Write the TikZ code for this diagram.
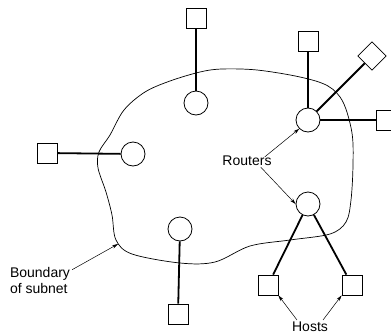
\documentclass[tikz,border=0pt]{standalone}
\usepackage{fontspec}
\setmainfont{Liberation Sans}
\usetikzlibrary{arrows.meta}
\begin{document}
\begin{tikzpicture}[x=1pt,y=-1pt,
  router/.style={circle,draw,line width=0.8pt,minimum size=24pt,inner sep=0pt},
  host/.style={rectangle,draw,line width=0.8pt,minimum size=20pt,inner sep=0pt},
  dhost/.style={host,rotate=45},
  link/.style={line width=1.8pt},
  lbl/.style={font=\fontsize{14}{16}\selectfont,inner sep=1pt},
  pointer/.style={line width=0.5pt,-{Stealth[length=6pt,width=3.5pt]}}]
\useasboundingbox (0,0) rectangle (391,335);
\clip (0,0) rectangle (391,335);
% boundary of subnet
\draw[line width=0.7pt] plot[smooth cycle,tension=0.55] coordinates {
  (200,72) (170,81) (145,92) (124,110) (110,135) (99,152) (98,168)
  (106,192) (112,215) (116,240) (132,254) (180,263) (215,262) (250,246)
  (290,240) (330,234) (346,222) (351,200) (353,165) (352,133) (343,102)
  (328,86) (300,77) (257,70) (222,69)};
\coordinate (bpt) at (118,244);
% routers
\node[router] (ra) at (196,103) {};
\node[router] (rl) at (133,154) {};
\node[router] (rtr) at (308,120) {};
\node[router] (rbr) at (308,204) {};
\node[router] (rb) at (180,229) {};
% hosts
\node[host] (ha) at (196,18) {};
\node[host] (hl) at (47,153) {};
\node[host] (htr1) at (308,41) {};
\node[dhost] (htr2) at (372,56) {};
\node[host] (htr3) at (386,120) {};
\node[host] (hbr1) at (268,285) {};
\node[host] (hbr2) at (352,285) {};
\node[host] (hb) at (178,314) {};
% links
\draw[link] (ha) -- (ra);
\draw[link] (hl) -- (rl);
\draw[link] (htr1) -- (rtr);
\draw[link] (htr2) -- (rtr);
\draw[link] (htr3) -- (rtr);
\draw[link] (hbr1) -- (rbr);
\draw[link] (hbr2) -- (rbr);
\draw[link] (hb) -- (rb);
% labels
\node[lbl] (routers) at (247,161) {Routers};
\node[lbl,align=left] (boundary) at (40,280) {Boundary\\of subnet};
\node[lbl] (hosts) at (310,327) {Hosts};
\draw[pointer] (routers.north east) ++(-8,2) -- (rtr.south west);
\draw[pointer] (routers.south east) ++(-12,0) -- (rbr.west);
\draw[pointer] (boundary.north east) ++(1,4) -- (bpt);
\draw[pointer] (hosts.north west) ++(6,-1) -- (hbr1.south east);
\draw[pointer] (hosts.north east) ++(-6,-1) -- (hbr2.south west);
\end{tikzpicture}
\end{document}
